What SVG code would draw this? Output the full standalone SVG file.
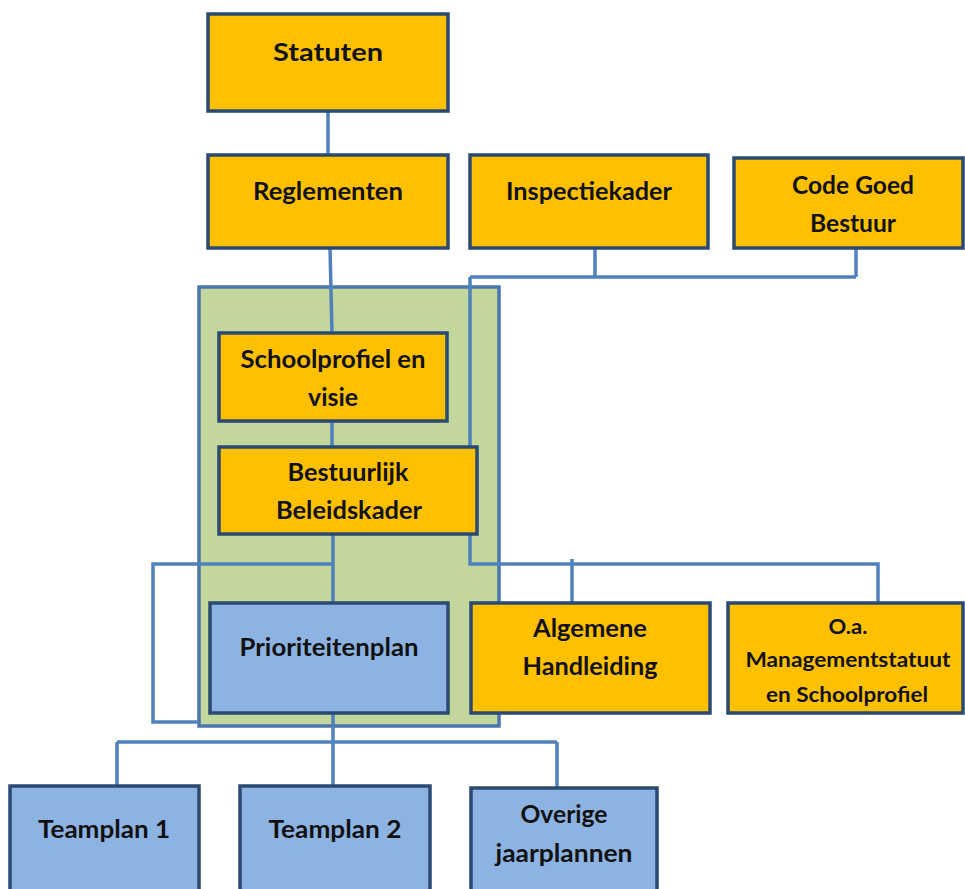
<svg xmlns="http://www.w3.org/2000/svg" width="965" height="889" viewBox="0 0 965 889">
<style>
.o{fill:#FFC000;stroke:#2A4A72;stroke-width:3.5}
.b{fill:#8DB3E2;stroke:#2A4A72;stroke-width:3.5}
.g{fill:#C3D69B;stroke:#4A76AC;stroke-width:3.5}
.c{fill:none;stroke:#4F81BD;stroke-width:3.5;stroke-linejoin:miter}
text{font-family:Lato,"Open Sans","Liberation Sans",sans-serif;font-weight:bold;font-size:25px;fill:#111;text-anchor:middle}
.s{font-size:21px}
</style>
<rect width="965" height="889" fill="#fff"/>
<g id="beleidsdomein"><rect class="g" x="199" y="287" width="300" height="439"/></g>
<g id="connectors">
<path class="c" d="M328,111V155"/>
<path class="c" d="M330,248L332,333"/>
<path class="c" d="M332,421V447"/>
<path class="c" d="M333,534V603"/>
<path class="c" d="M333,564H153V722H199"/>
<path class="c" d="M595,248V277M856,248V277M470,277H856M470,277V447"/>
<path class="c" d="M470,534V564H878V603M572,559V603"/>
<path class="c" d="M333,713V786M117,742H557M117,742V786M557,742V788"/>
</g>
<g id="statuten"><rect class="o" x="208" y="14" width="240" height="97"/><text x="328" y="61" textLength="110" lengthAdjust="spacingAndGlyphs">Statuten</text></g>
<g id="reglementen"><rect class="o" x="208" y="155" width="240" height="93"/><text x="328" y="200" textLength="150" lengthAdjust="spacingAndGlyphs">Reglementen</text></g>
<g id="inspectiekader"><rect class="o" x="470" y="155" width="238" height="93"/><text x="589" y="200" textLength="166" lengthAdjust="spacingAndGlyphs">Inspectiekader</text></g>
<g id="codegoedbestuur"><rect class="o" x="734" y="158" width="229" height="90"/><text x="853" y="194" textLength="122" lengthAdjust="spacingAndGlyphs">Code Goed</text><text x="853" y="232" textLength="86" lengthAdjust="spacingAndGlyphs">Bestuur</text></g>
<g id="schoolprofiel"><rect class="o" x="219" y="333" width="228" height="88"/><text x="333" y="368" textLength="185" lengthAdjust="spacingAndGlyphs">Schoolprofiel en</text><text x="333" y="406" textLength="50" lengthAdjust="spacingAndGlyphs">visie</text></g>
<g id="bestuurlijk"><rect class="o" x="219" y="447" width="258" height="87"/><text x="348" y="481" textLength="121" lengthAdjust="spacingAndGlyphs">Bestuurlijk</text><text x="349" y="519" textLength="146" lengthAdjust="spacingAndGlyphs">Beleidskader</text></g>
<g id="prioriteitenplan"><rect class="b" x="210" y="603" width="238" height="110"/><text x="329" y="656" textLength="179" lengthAdjust="spacingAndGlyphs">Prioriteitenplan</text></g>
<g id="algemene"><rect class="o" x="471" y="603" width="239" height="110"/><text x="590" y="637" textLength="114" lengthAdjust="spacingAndGlyphs">Algemene</text><text x="590" y="675" textLength="135" lengthAdjust="spacingAndGlyphs">Handleiding</text></g>
<g id="managementstatuut"><rect class="o" x="728" y="603" width="235" height="110"/><text class="s" x="848" y="634" textLength="39" lengthAdjust="spacingAndGlyphs">O.a.</text><text class="s" x="848" y="667" textLength="205" lengthAdjust="spacingAndGlyphs">Managementstatuut</text><text class="s" x="847" y="702" textLength="162" lengthAdjust="spacingAndGlyphs">en Schoolprofiel</text></g>
<g id="teamplan1"><rect class="b" x="10" y="786" width="189" height="110"/><text x="104" y="838" textLength="132" lengthAdjust="spacingAndGlyphs">Teamplan 1</text></g>
<g id="teamplan2"><rect class="b" x="240" y="786" width="190" height="110"/><text x="335" y="838" textLength="133" lengthAdjust="spacingAndGlyphs">Teamplan 2</text></g>
<g id="overige"><rect class="b" x="471" y="788" width="186" height="110"/><text x="564" y="823" textLength="87" lengthAdjust="spacingAndGlyphs">Overige</text><text x="564" y="862" textLength="137" lengthAdjust="spacingAndGlyphs">jaarplannen</text></g>
</svg>
